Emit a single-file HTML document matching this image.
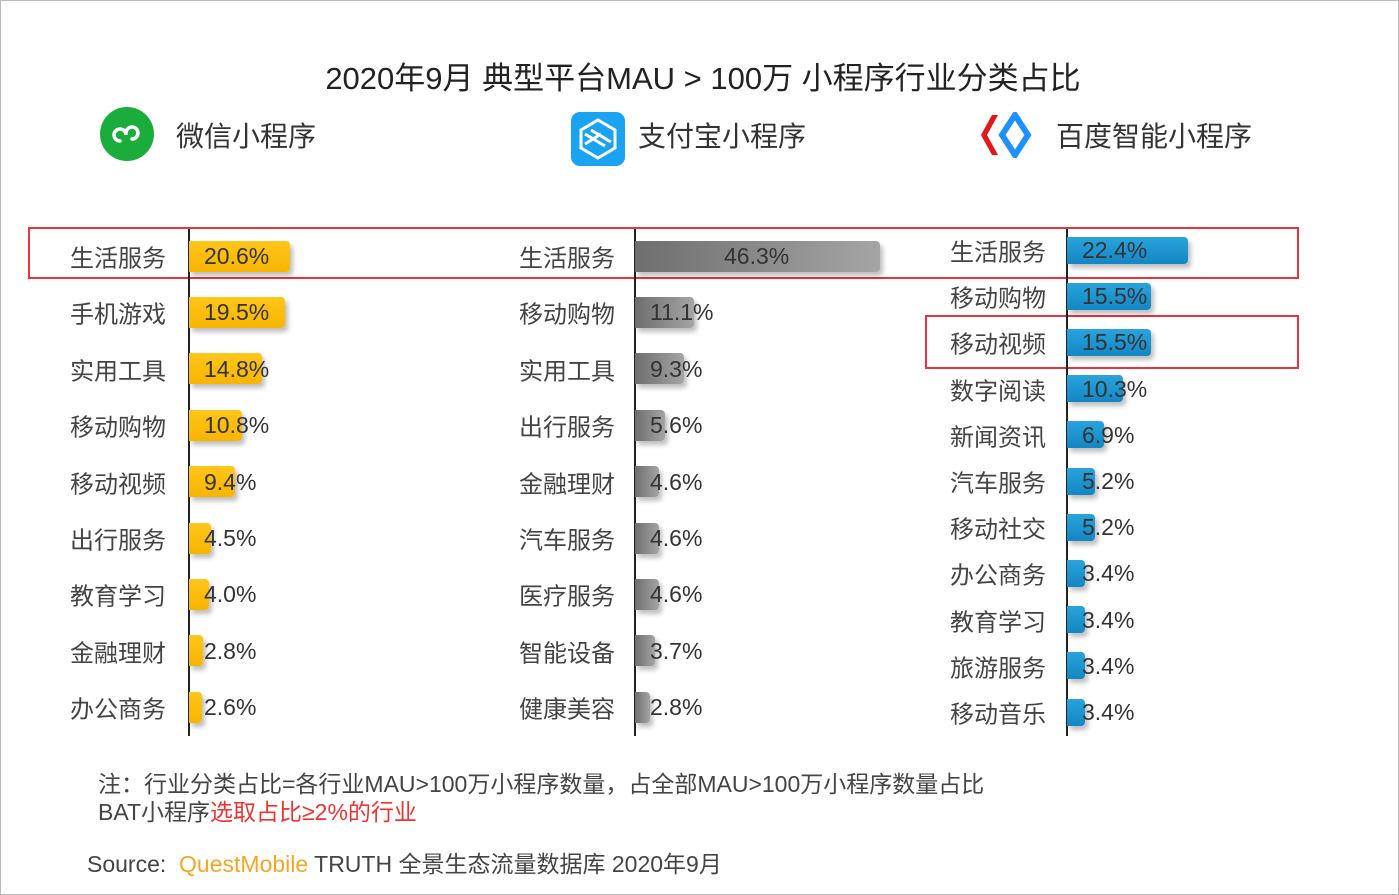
<!DOCTYPE html>
<html><head><meta charset="utf-8"><style>
body{margin:0;width:1399px;height:895px;background:#fff;overflow:hidden;position:relative;font-family:"Liberation Sans","Noto Sans CJK SC",sans-serif;color:#333}
.a{position:absolute;white-space:nowrap}
.lab{position:absolute;font-size:24px;color:#444;transform:translateY(-50%);white-space:nowrap}
.bar{position:absolute;border-radius:0 4px 4px 0;box-shadow:3px 4px 5px rgba(0,0,0,.25)}
.val{position:absolute;font-size:23px;color:#333;transform:translateY(-48%);white-space:nowrap}
.ax{position:absolute;width:1.5px;background:#222}
.box{position:absolute;border:2px solid #e8333a}
</style></head><body>
<div class="a" style="left:0;top:0;width:1397px;height:893px;border:1px solid #bbb"></div>
<div class="a" style="left:0;width:1406px;top:53px;text-align:center;font-size:31px;color:#222">2020年9月 典型平台MAU &gt; 100万 小程序行业分类占比</div>
<svg class="a" style="left:100px;top:107px" width="56" height="56"><circle cx="27" cy="27" r="27" fill="#1aad3c"/><path d="M20 34a6 6 0 1 1 6-6v-2a6 6 0 1 1 6 6" stroke="#fff" stroke-width="3.5" fill="none" stroke-linecap="round"/></svg>
<div class="a" style="left:176px;top:115px;font-size:28px;color:#333">微信小程序</div>
<svg class="a" style="left:571px;top:112px" width="54" height="54"><rect width="54" height="54" rx="9" fill="#1aa3f0"/><path d="M27 8l17 10v18l-17 10-17-10V18z M14 22l20 12 M20 18l20 12 M14 32l16-10" stroke="#fff" stroke-width="3" fill="none"/></svg>
<div class="a" style="left:638px;top:115px;font-size:28px;color:#333">支付宝小程序</div>
<svg class="a" style="left:978px;top:112px" width="60" height="46"><path d="M14 3L3 23l11 20h6L9 23 20 3z" fill="#e5161b"/><path d="M37 3L24 23l13 20 13-20z" fill="none" stroke="#1e90ff" stroke-width="6"/></svg>
<div class="a" style="left:1056px;top:115px;font-size:28px;color:#333">百度智能小程序</div>
<div class="box" style="left:28px;top:227px;width:1267px;height:48px"></div>
<div class="box" style="left:925px;top:315px;width:370px;height:50px"></div>
<div class="ax" style="left:188px;top:229px;height:507px"></div>
<div class="ax" style="left:634px;top:229px;height:507px"></div>
<div class="ax" style="left:1066px;top:229px;height:507px"></div>
<div id="c"></div>
<div class="a" style="left:98px;top:765px;font-size:23px;color:#444">注：行业分类占比=各行业MAU&gt;100万小程序数量，占全部MAU&gt;100万小程序数量占比</div>
<div class="a" style="left:98px;top:793px;font-size:23px;color:#444">BAT小程序<span style="color:#e33">选取占比≥2%的行业</span></div>
<div class="a" style="left:87px;top:845px;font-size:23px;color:#444">Source:&nbsp; <span style="color:#f5a623">QuestMobile</span> TRUTH 全景生态流量数据库 2020年9月</div>
<script>
var c=document.getElementById('c'),h='';
function col(x0,ax,y0,dy,bh,sc,bg,data,center){data.forEach(function(d,i){var y=y0+i*dy,w=d[1]*sc;
h+='<div class="lab" style="left:'+x0+'px;top:'+y+'px">'+d[0]+'</div>';
h+='<div class="bar" style="left:'+(ax+1)+'px;top:'+(y-bh/2)+'px;width:'+w+'px;height:'+bh+'px;background:'+bg+'"></div>';
var l=center?(ax+1+w/2-24):(ax+16);
h+='<div class="val" style="left:'+l+'px;top:'+y+'px">'+d[1].toFixed(1)+'%</div>';});}
col(70,188,256,56.4,31,4.9,'linear-gradient(#ffc61a,#f7b500)',[['生活服务',20.6],['手机游戏',19.5],['实用工具',14.8],['移动购物',10.8],['移动视频',9.4],['出行服务',4.5],['教育学习',4.0],['金融理财',2.8],['办公商务',2.6]]);
col(519,634,256,56.4,31,5.3,'linear-gradient(90deg,#6e6e6e,#a5a5a5)',[['生活服务',46.3],['移动购物',11.1],['实用工具',9.3],['出行服务',5.6],['金融理财',4.6],['汽车服务',4.6],['医疗服务',4.6],['智能设备',3.7],['健康美容',2.8]]);
c.innerHTML=h;h='';
col(950,1066,250,46.2,27,5.4,'linear-gradient(#2aa4dc,#1386c4)',[['生活服务',22.4],['移动购物',15.5],['移动视频',15.5],['数字阅读',10.3],['新闻资讯',6.9],['汽车服务',5.2],['移动社交',5.2],['办公商务',3.4],['教育学习',3.4],['旅游服务',3.4],['移动音乐',3.4]]);
c.innerHTML+=h;
document.querySelectorAll('.val')[9].style.left='724px';
</script>
</body></html>
